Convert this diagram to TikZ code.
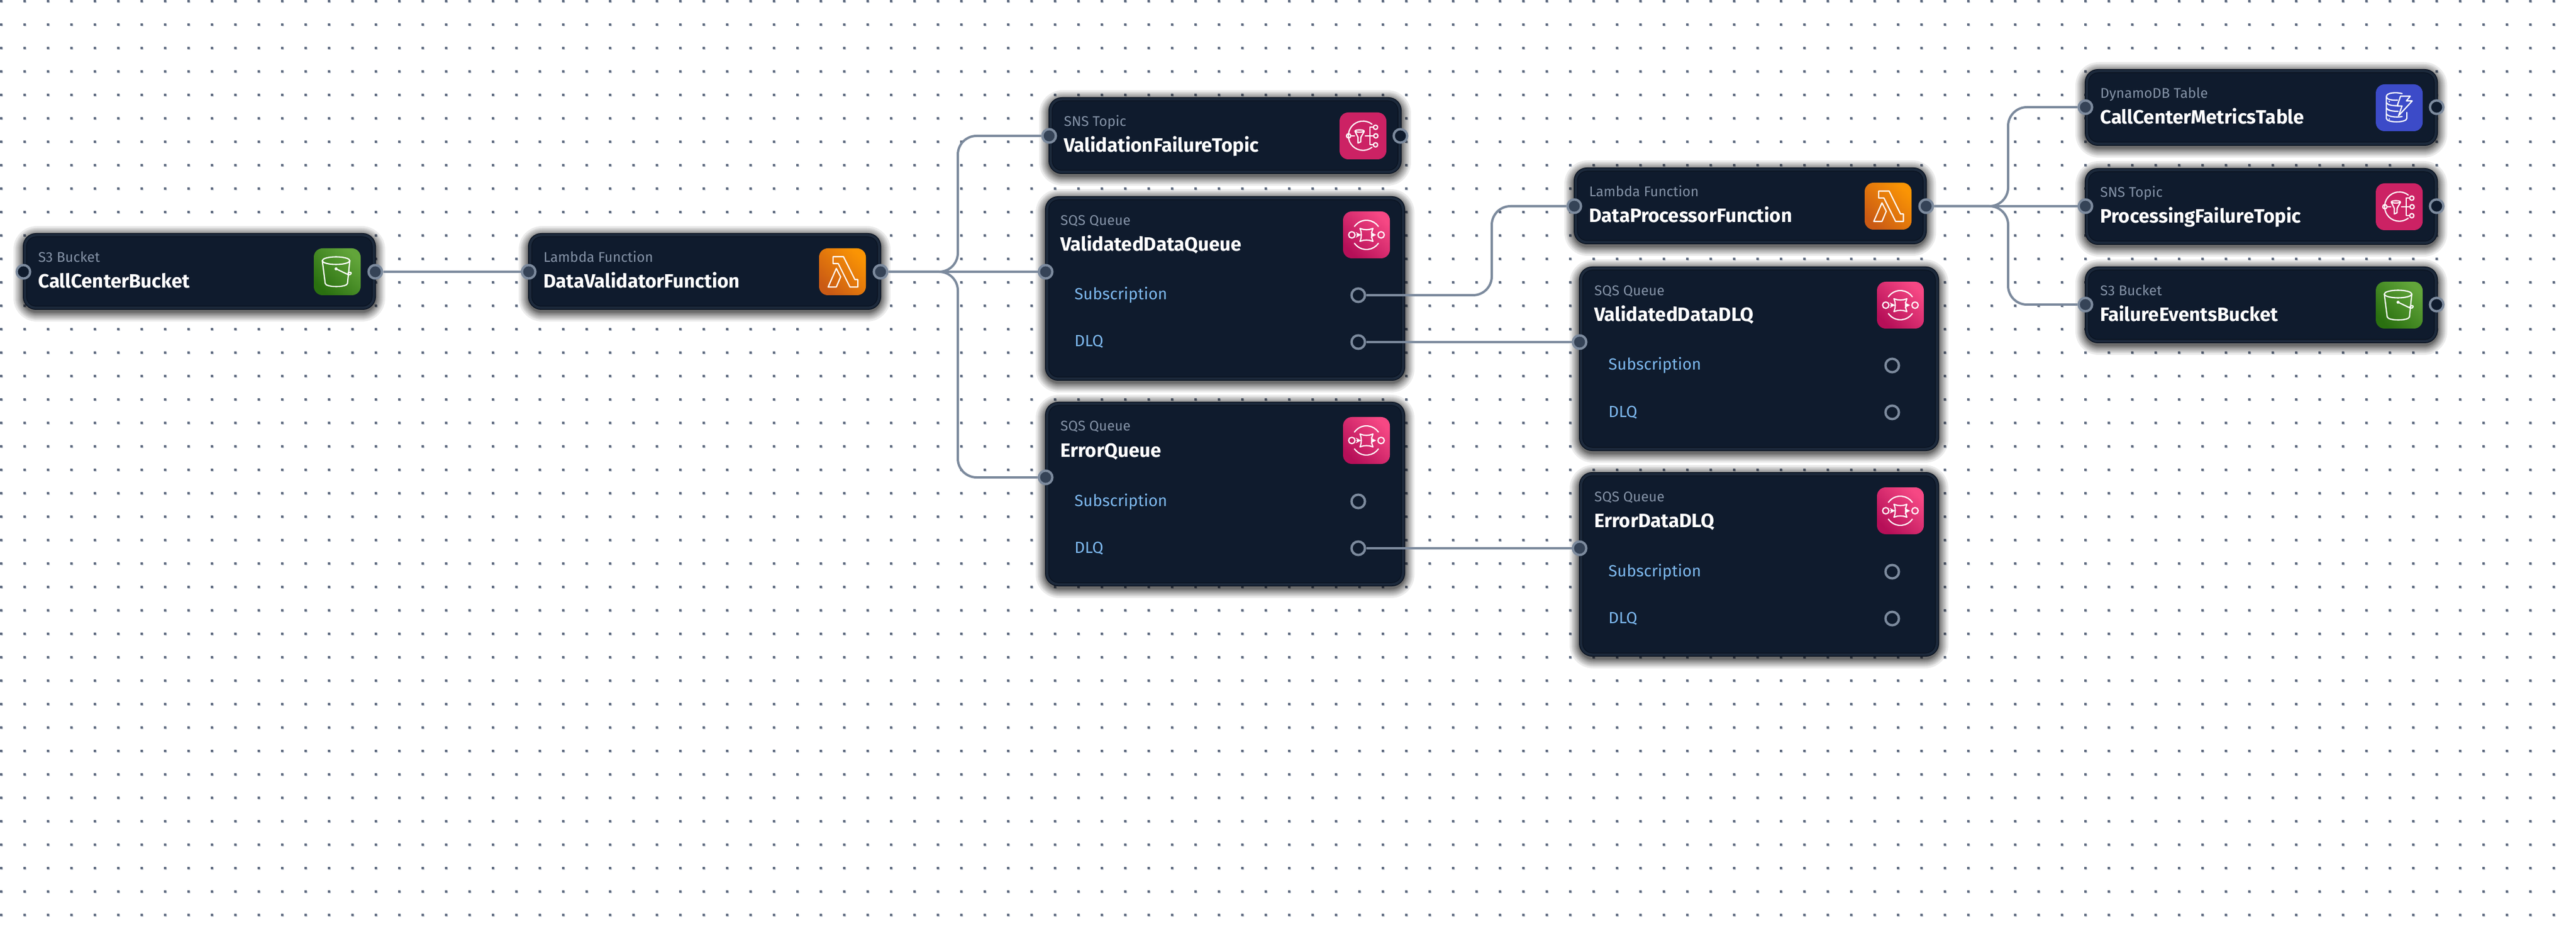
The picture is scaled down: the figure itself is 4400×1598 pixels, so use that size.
\documentclass[tikz,border=0pt]{standalone}
\usepackage{fontspec}
\setmainfont{Fira Sans}
\usetikzlibrary{positioning}
\definecolor{griddot}{HTML}{5F6B80}
\definecolor{gridhalo}{HTML}{CDD2DA}
\definecolor{cardfill}{HTML}{0F1B2D}
\definecolor{cardband}{HTML}{1C293B}
\definecolor{cardedge}{HTML}{0B1422}
\definecolor{wirecol}{HTML}{7C8A9D}
\definecolor{portlit}{HTML}{354357}
\definecolor{kindcol}{HTML}{8492A6}
\definecolor{rowcol}{HTML}{7DB8EE}
\definecolor{bucketdark}{HTML}{2A7010}
\definecolor{bucketlight}{HTML}{62A53A}
\definecolor{lambdadark}{HTML}{CA5A14}
\definecolor{lambdalight}{HTML}{FA9404}
\definecolor{queuedark}{HTML}{B60F58}
\definecolor{queuelight}{HTML}{F64884}
\definecolor{topicpink}{HTML}{CC2264}
\definecolor{tableblue}{HTML}{3C4BC8}
\tikzset{card/.style={rectangle,fill=cardfill,draw=cardedge,line width=.75pt,double=cardband,double distance=2pt,
        rounded corners=9.5pt,inner sep=0,outer sep=0},
    shadowlayer/.style={fill=black,fill opacity=0.08},
    kindtext/.style={anchor=base west,inner sep=0,text=kindcol,font=\fontsize{12}{14}\selectfont},
    nametext/.style={anchor=base west,inner sep=0,text=white,font=\fontsize{16.5}{20}\selectfont\bfseries},
    rowtext/.style={anchor=base west,inner sep=0,text=rowcol,font=\fontsize{13.8}{16}\selectfont},
    portidle/.style={circle,draw=wirecol,line width=2pt,fill=cardfill,inner sep=0,minimum size=11.5pt},
    portlive/.style={portidle,fill=portlit},
    wire/.style={draw=wirecol,line width=2pt,rounded corners=16pt},
    icontile/.style={rectangle,rounded corners=7.5pt,inner sep=0,outer sep=0,minimum size=40pt},
    glyph/.style={draw=white,line width=1.05pt,line join=round,line cap=round}
}
\newcommand{\servicecard}[7]
{
% args: (node name, left x, top y, width, height, service type, resource name)
    \foreach \spread in {16,13,11,9,7,5.5,4,2.5,1.5,0.5}
    {
        \pgfmathsetlengthmacro\shadowround{(24+\spread)*0.5pt}
        \fill [shadowlayer,rounded corners=\shadowround] (#2-\spread,#3-\spread+4) rectangle (#2+#4+\spread,#3+#5+\spread+4);
    }
    \node (#1) [card,minimum width=(#4-7)*0.5pt,minimum height=(#5-7)*0.5pt] at (#2+#4/2,#3+#5/2) {};
    \node (#1Kind) [kindtext] at (#2+26,#3+50) {#6};
    \node (#1Name) [nametext] at (#2+26,#3+94) {#7};
}
\newcommand{\queuerows}[4]
{
% args: (card name, x of row text, x of row ports, y of first row port)
    \node (#1SubText) [rowtext] at (#2,#4+8) {Subscription};
    \node (#1DlqText) [rowtext] at (#2,#4+88) {DLQ};
    \node (#1Sub) [portidle] at (#3,#4) {};
    \node (#1Dlq) [portidle] at (#3,#4+80) {};
}
\newcommand{\bucketicon}[1]
{
    \node (#1Icon) [icontile,shade,left color=bucketdark,right color=bucketlight,shading angle=135]
        at ([shift={(-31.25pt,-31.25pt)}]#1.north east) {};
    \begin{scope}[shift={(#1Icon.center)},glyph]
        \draw (-2,-19) ellipse [x radius=23.5,y radius=6.5];
        \draw (-25.5,-19) -- (-20.5,20) .. controls (-19,27) and (16,27) .. (17.5,20) -- (21.5,-19);
        \fill [white] (-2,-5) circle [radius=2.6];
        \draw (-2,-5) -- (19,5);
        \draw [rotate around={25:(21,3)}] (21,3) ellipse [x radius=3,y radius=2];
    \end{scope}
}
\newcommand{\lambdaicon}[1]
{
    \node (#1Icon) [icontile,shade,left color=lambdadark,right color=lambdalight,shading angle=135]
        at ([shift={(-31.25pt,-31.25pt)}]#1.north east) {};
    \begin{scope}[shift={(#1Icon.center)},glyph]
        \draw (-16.2,-25.7) -- (1.8,-25.7) -- (21.2,13.3) -- (26.2,13.3) -- (26.2,26) -- (12.8,26) -- (-7.2,-14) -- (-16.2,-14) -- cycle;
        \draw (-10.5,-5.7) -- (-3.2,8.7) -- (-10.5,26) -- (-24.5,26) -- cycle;
    \end{scope}
}
\newcommand{\queueicon}[1]
{
    \node (#1Icon) [icontile,shade,left color=queuedark,right color=queuelight,shading angle=135]
        at ([shift={(-31.25pt,-31.25pt)}]#1.north east) {};
    \begin{scope}[shift={(#1Icon.center)},glyph]
        \draw (-20.5,-14.3) arc [start angle=-145,end angle=-35,radius=25];
        \draw (-20.5,14.3) arc [start angle=145,end angle=35,radius=25];
        \draw (-25,0) circle [radius=5.5];
        \draw (25,0) circle [radius=5.5];
        \draw [-stealth] (-16.5,0) -- (-9,0);
        \draw [-stealth] (9,0) -- (16.5,0);
        \draw (-11,-11) .. controls (-4,-8) and (4,-8) .. (11,-11) .. controls (8,-4) and (8,4) .. (11,11)
            .. controls (4,8) and (-4,8) .. (-11,11) .. controls (-8,4) and (-8,-4) .. (-11,-11) -- cycle;
    \end{scope}
}
\newcommand{\topicicon}[1]
{
    \node (#1Icon) [icontile,fill=topicpink]
        at ([shift={(-31.25pt,-31.25pt)}]#1.north east) {};
    \begin{scope}[shift={(#1Icon.center)},glyph]
        \draw (15.5,-20) arc [start angle=-52,end angle=-180,radius=25] arc [start angle=180,end angle=52,radius=25];
        \draw (-24.5,0) circle [radius=3.7];
        \draw (-20.5,0) -- (-14.5,0);
        \draw (-13.5,-7.7) -- (-8.5,2.3) -- (-8.5,12.3) -- (-3.8,10.3) -- (-3.5,2.3) -- (2.2,-7.7);
        \draw (-5.8,-8.3) ellipse [x radius=7.8,y radius=2];
        \draw (3.8,0) -- (18,0);
        \draw (18,-14.7) -- (12,-14.7) -- (12,15.3) -- (18,15.3);
        \draw (22,0) circle [radius=3.7];
        \draw (21.5,-14.7) circle [radius=3.7];
        \draw (21.5,15.3) circle [radius=3.7];
    \end{scope}
}
\newcommand{\tableicon}[1]
{
    \node (#1Icon) [icontile,fill=tableblue]
        at ([shift={(-31.25pt,-31.25pt)}]#1.north east) {};
    \begin{scope}[shift={(#1Icon.center)},glyph]
        \draw (5,-24.2) .. controls (-5,-27) and (-22,-26) .. (-22,-19) .. controls (-22,-14) and (-12,-12.5) .. (-3,-13);
        \draw (-22,-19) -- (-22,18) .. controls (-22,26) and (13,26) .. (13,18) -- (13,8);
        \draw (-22,-9) .. controls (-21,-5) and (-11,-3) .. (-1.5,-3.5);
        \draw (-22,0) .. controls (-21,5) and (-10,6) .. (-2,6);
        \draw (-22,10) .. controls (-21,15) and (-5,17) .. (5,15);
        \fill [white] (-17,-10.7) circle [radius=1.3] (-17,3.7) circle [radius=1.3] (-17,19.3) circle [radius=1.3];
        \draw (2.2,-19.7) -- (18.8,-19.7) -- (12.2,-11.7) -- (22.2,-11.7) -- (-1.2,13.7) -- (4.8,-3) -- (-3.5,-3) -- cycle;
    \end{scope}
}
\newcommand{\bentwire}[3]
{
% args: (from port, to port, coordinate on the vertical part)
    \draw [wire] (#1.east) -- (#3 |- #1.east) -- (#3 |- #2.west) -- (#2.west);
}

\begin{document}
\begin{tikzpicture}[x=0.5pt,y=-0.5pt]

\useasboundingbox (0,0) rectangle (4400,1598);
\fill [white] (0,0) rectangle (4400,1598);

%% dot grid of the canvas
\fill [gridhalo] \foreach \dotx in {0,40,...,4360} { \foreach \doty in {0,40,...,1560} { (\dotx+1,\doty+1) rectangle ++(4,4) } };
\fill [griddot] \foreach \dotx in {0,40,...,4360} { \foreach \doty in {0,40,...,1560} { (\dotx,\doty) rectangle ++(4,4) } };

%% cards
% source and validator

\servicecard{CallCenterBucket}{39}{398}{603}{131}{S3 Bucket}{CallCenterBucket}
\bucketicon{CallCenterBucket}
\servicecard{DataValidatorFunction}{902}{398}{603}{131}{Lambda Function}{DataValidatorFunction}
\lambdaicon{DataValidatorFunction}

\node (bucketIn) at (40,464) [portidle] {};
\node (bucketOut) at (641,464) [portlive] {};
\node (validatorIn) at (903,464) [portlive] {};
\node (validatorOut) at (1504,464) [portlive] {};

% first column of targets

\servicecard{ValidationFailureTopic}{1791}{166}{603}{131}{SNS Topic}{ValidationFailureTopic}
\topicicon{ValidationFailureTopic}
\servicecard{ValidatedDataQueue}{1785}{335}{615}{315}{SQS Queue}{ValidatedDataQueue}
\queueicon{ValidatedDataQueue}
\queuerows{ValidatedDataQueue}{1835}{2320}{504}
\servicecard{ErrorQueue}{1785}{686}{615}{315}{SQS Queue}{ErrorQueue}
\queueicon{ErrorQueue}
\queuerows{ErrorQueue}{1835}{2320}{856}

\node (failTopicIn) at (1792,232) [portlive] {};
\node (failTopicOut) at (2392,232) [portidle] {};
\node (validatedIn) at (1786,464) [portlive] {};
\node (errorIn) at (1786,815) [portlive] {};

% processor and dead letter queues

\servicecard{DataProcessorFunction}{2688}{286}{603}{131}{Lambda Function}{DataProcessorFunction}
\lambdaicon{DataProcessorFunction}
\servicecard{ValidatedDataDLQ}{2697}{455}{615}{315}{SQS Queue}{ValidatedDataDLQ}
\queueicon{ValidatedDataDLQ}
\queuerows{ValidatedDataDLQ}{2747}{3232}{624}
\servicecard{ErrorDataDLQ}{2697}{806}{615}{315}{SQS Queue}{ErrorDataDLQ}
\queueicon{ErrorDataDLQ}
\queuerows{ErrorDataDLQ}{2747}{3232}{976}

\node (processorIn) at (2689,352) [portlive] {};
\node (processorOut) at (3290,352) [portlive] {};
\node (validatedDlqIn) at (2698,584) [portlive] {};
\node (errorDlqIn) at (2698,936) [portlive] {};

% last column

\servicecard{CallCenterMetricsTable}{3561}{118}{603}{131}{DynamoDB Table}{CallCenterMetricsTable}
\tableicon{CallCenterMetricsTable}
\servicecard{ProcessingFailureTopic}{3561}{287}{603}{131}{SNS Topic}{ProcessingFailureTopic}
\topicicon{ProcessingFailureTopic}
\servicecard{FailureEventsBucket}{3561}{455}{603}{131}{S3 Bucket}{FailureEventsBucket}
\bucketicon{FailureEventsBucket}

\node (metricsIn) at (3562,183) [portlive] {};
\node (metricsOut) at (4162,183) [portidle] {};
\node (procTopicIn) at (3562,352) [portlive] {};
\node (procTopicOut) at (4162,352) [portidle] {};
\node (eventsIn) at (3562,520) [portlive] {};
\node (eventsOut) at (4162,520) [portidle] {};

%% connectors

\coordinate (validatorBend) at (1636,464);
\coordinate (subscriptionBend) at (2548,504);
\coordinate (processorBend) at (3430,352);

\draw [wire] (bucketOut.east) -- (validatorIn.west);
\bentwire{validatorOut}{failTopicIn}{validatorBend}
\draw [wire] (validatorOut.east) -- (validatedIn.west);
\bentwire{validatorOut}{errorIn}{validatorBend}
\bentwire{ValidatedDataQueueSub}{processorIn}{subscriptionBend}
\draw [wire] (ValidatedDataQueueDlq.east) -- (validatedDlqIn.west);
\draw [wire] (ErrorQueueDlq.east) -- (errorDlqIn.west);
\bentwire{processorOut}{metricsIn}{processorBend}
\draw [wire] (processorOut.east) -- (procTopicIn.west);
\bentwire{processorOut}{eventsIn}{processorBend}

\end{tikzpicture}
\end{document}
